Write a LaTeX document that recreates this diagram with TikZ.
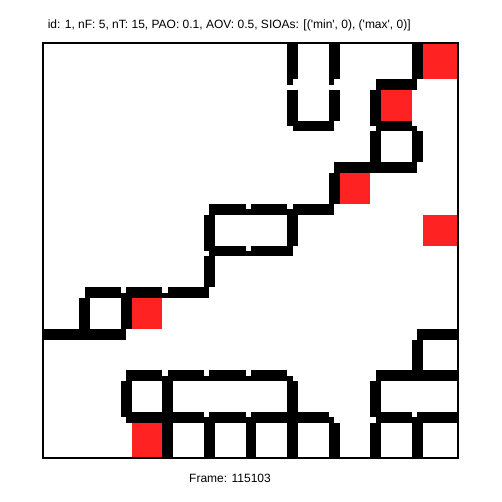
\documentclass[tikz,border=0pt]{standalone}
\usepackage{fontspec}
\newfontfamily\plotfont{Liberation Sans}
\definecolor{cellred}{RGB}{255,34,34}
\tikzset{
  wallc/.style={fill=black},
  redc/.style={fill=cellred},
  lbl/.style={anchor=base, inner sep=0pt, font=\plotfont\fontsize{12}{14}\selectfont}
}
\newcommand\hwallseg[2]{% #1 = horizontal grid line j, #2 = column c
  \pgfmathsetmacro\yA{37.6+41.6*#1}%
  \pgfmathsetmacro\xA{37.6+41.6*#2+5.35}%
  \pgfmathsetmacro\xB{37.6+41.6*(#2+1)}%
  \ifnum#2=9 \def\xB{470}\fi
  \fill[wallc] (\xA,\yA) rectangle ({\xB},{\yA+5.35});
  \fill[wallc] (\xA,{\yA+5.35}) rectangle ({\xB+5.35},{\yA+10.7});
}
\newcommand\vwallseg[2]{% #1 = vertical grid line i, #2 = row r
  \pgfmathsetmacro\xA{37.6+41.6*#1}%
  \pgfmathsetmacro\yA{37.6+41.6*#2+10.7}%
  \pgfmathsetmacro\yB{37.6+41.6*(#2+1)}%
  \ifnum#2=0 \def\yA{30}\fi
  \ifnum#2=9 \def\yB{470}\fi
  \fill[wallc] (\xA,\yA) rectangle ({\xA+5.35},{\yB+5.35});
  \fill[wallc] ({\xA+5.35},\yA) rectangle ({\xA+10.7},\yB);
}
\newcommand\redcell[2]{% #1 = column c, #2 = row r
  \pgfmathsetmacro\xA{37.6+41.6*#1+10.7}%
  \pgfmathsetmacro\xB{37.6+41.6*(#1+1)}%
  \pgfmathsetmacro\yA{37.6+41.6*#2+10.7}%
  \pgfmathsetmacro\yB{37.6+41.6*(#2+1)}%
  \ifnum#1=9 \def\xB{470}\fi
  \ifnum#2=0 \def\yA{30}\fi
  \ifnum#2=9 \def\yB{470}\fi
  \fill[redc] (\xA,\yA) rectangle (\xB,\yB);
}
\begin{document}
\begin{tikzpicture}[x=1pt,y=-1pt]
\useasboundingbox (0,0) rectangle (502,502);
\fill[white] (0,0) rectangle (502,502);
\begin{scope}
  \clip (43,43) rectangle (457.6,457.6);
  % red cells
  \foreach \c/\r in {9/0, 8/1, 7/3, 9/4, 2/6, 2/9} {\redcell{\c}{\r}}
  % horizontal walls (line j, column c)
  \foreach \j/\c in {1/8, 2/6, 2/8, 3/7, 3/8, 4/4, 4/5, 4/6, 5/4, 5/5,
                     6/1, 6/2, 6/3, 7/0, 7/1, 7/9,
                     8/2, 8/3, 8/4, 8/5, 8/8, 8/9,
                     9/2, 9/3, 9/4, 9/5, 9/6, 9/8, 9/9} {\hwallseg{\j}{\c}}
  % vertical walls (line i, row r)
  \foreach \i/\r in {1/6, 2/6, 2/8, 3/8, 3/9, 4/4, 4/5, 4/9, 5/9,
                     6/0, 6/1, 6/4, 6/8, 6/9, 7/0, 7/1, 7/3, 7/9,
                     8/1, 8/2, 8/8, 8/9, 9/0, 9/2, 9/7, 9/9} {\vwallseg{\i}{\r}}
\end{scope}
\draw[line width=2.2pt] (43,43) rectangle (457.6,457.6);
\node[lbl] (title) at (229.2,28.3) {id: 1, nF: 5, nT: 15, PAO: 0.1, AOV: 0.5, SIOAs: [('min', 0), ('max', 0)]};
\node[lbl] (frame) at (230,482.7) {Frame: 115103};
\end{tikzpicture}
\end{document}
